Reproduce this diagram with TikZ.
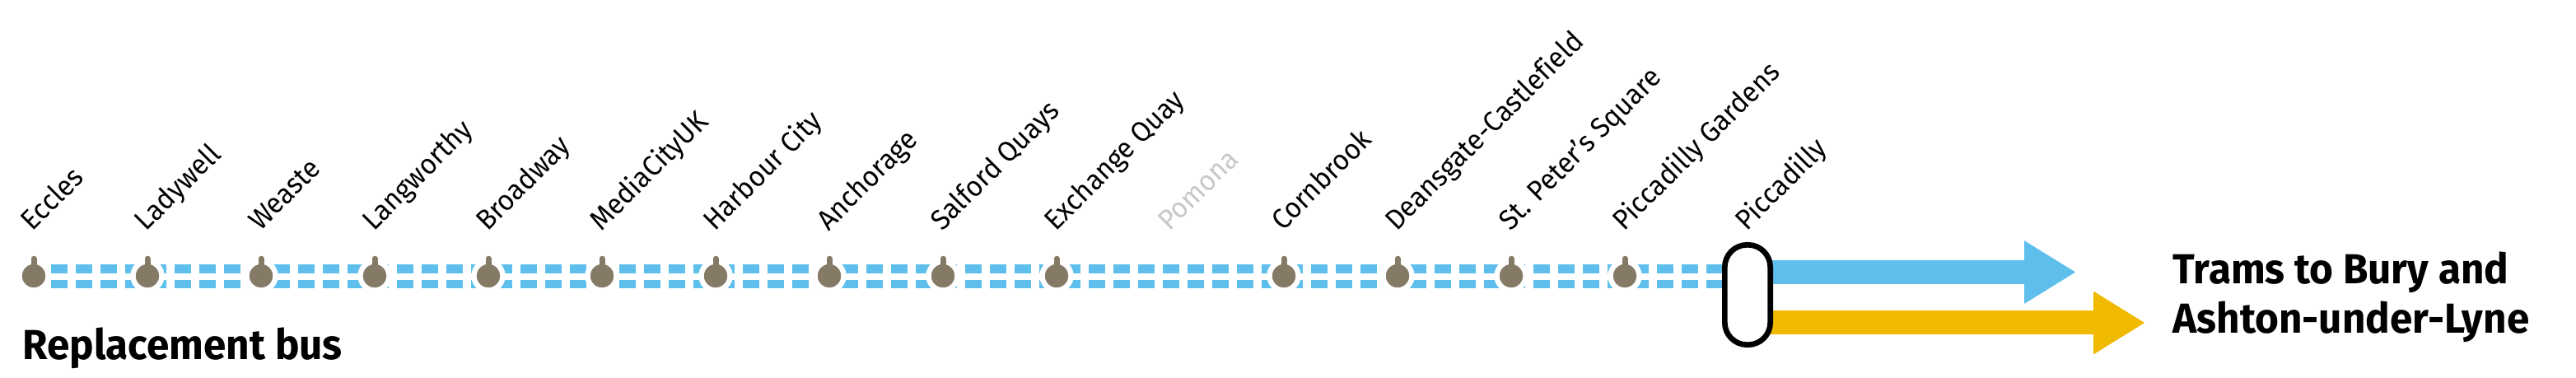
\documentclass[tikz,border=0pt]{standalone}
\usepackage{fontspec}
\setmainfont[Ligatures=NoCommon, FakeStretch=0.95, BoldFeatures={FakeStretch=0.97}]{Fira Sans}
\usetikzlibrary{arrows.meta}
\definecolor{linkblue}{HTML}{5EBFEC}
\definecolor{stoptan}{HTML}{857A66}
\definecolor{tramgold}{HTML}{EFBA00}
\definecolor{closedgrey}{HTML}{C8C8C8}
\tikzset{
  busline/.style={linkblue, line width=.105cm, dash pattern=on .195cm off .105cm, dash phase=.087cm},
  stopdot/.style={circle, fill=stoptan, draw=white, line width=.064cm, minimum size=.35cm, inner sep=0pt},
  stopstem/.style={stoptan, line width=.07cm, line cap=round},
  stoplabel/.style={rotate=45, anchor=base west, inner sep=0pt, font=\fontsize{9.8}{12}\selectfont},
  tramarrow/.style={line width=.29cm, -{Triangle[length=.63cm,width=.72cm]}},
  boldlabel/.style={inner sep=0pt, font=\fontsize{14.5}{17.1}\selectfont\bfseries},
  interchange/.style={draw=black, fill=white, line width=.067cm, minimum width=.553cm, minimum height=1.213cm, rounded corners=.27cm}
}
\begin{document}
\begin{tikzpicture}
  \useasboundingbox (0,0) rectangle (31.28,4.59);
  \coordinate (capmid) at (21.22,1.01);
  \coordinate (first) at (.41,1.24);
  \coordinate (bluetip) at (25.21,1.285);
  \coordinate (goldtip) at (26.05,.67);
  % replacement bus section
  \draw[busline] ([yshift=.087cm]first) -- ([yshift=.087cm]first -| capmid);
  \draw[busline] ([yshift=-.098cm]first) -- ([yshift=-.098cm]first -| capmid);
  \foreach \i/\name in {0/Eccles,1/Ladywell,2/Weaste,3/Langworthy,4/Broadway,5/MediaCityUK,6/Harbour City,7/Anchorage,8/Salford Quays,9/Exchange Quay,11/Cornbrook,12/Deansgate-Castlefield,13/St. Peter's Square,14/Piccadilly Gardens}{
    \node[stopdot] (st\i) at (.41+1.38*\i,1.24) {};
    \coordinate (top\i) at (.41+1.38*\i,1.448);
    \draw[stopstem] (st\i.center) -- (top\i);
    \node[stoplabel] (lb\i) at (.395+1.38*\i,1.77) {\name};
  }
  \node[stoplabel, text=closedgrey] (lb10) at (.395+1.38*10,1.77) {Pomona};
  \node[stoplabel] (lb15) at (21.205,1.77) {Piccadilly};
  % trams onward
  \draw[tramarrow, linkblue] (capmid |- bluetip) -- (bluetip);
  \draw[tramarrow, tramgold] (capmid |- goldtip) -- (goldtip);
  \node[interchange] (cap) at (capmid) {};
  \node[boldlabel, anchor=base west] (bus) at (.27,.22) {Replacement bus};
  \node[boldlabel, anchor=west, align=left] (trams) at (26.38,.98) {Trams to Bury and\\Ashton-under-Lyne};
\end{tikzpicture}
\end{document}
